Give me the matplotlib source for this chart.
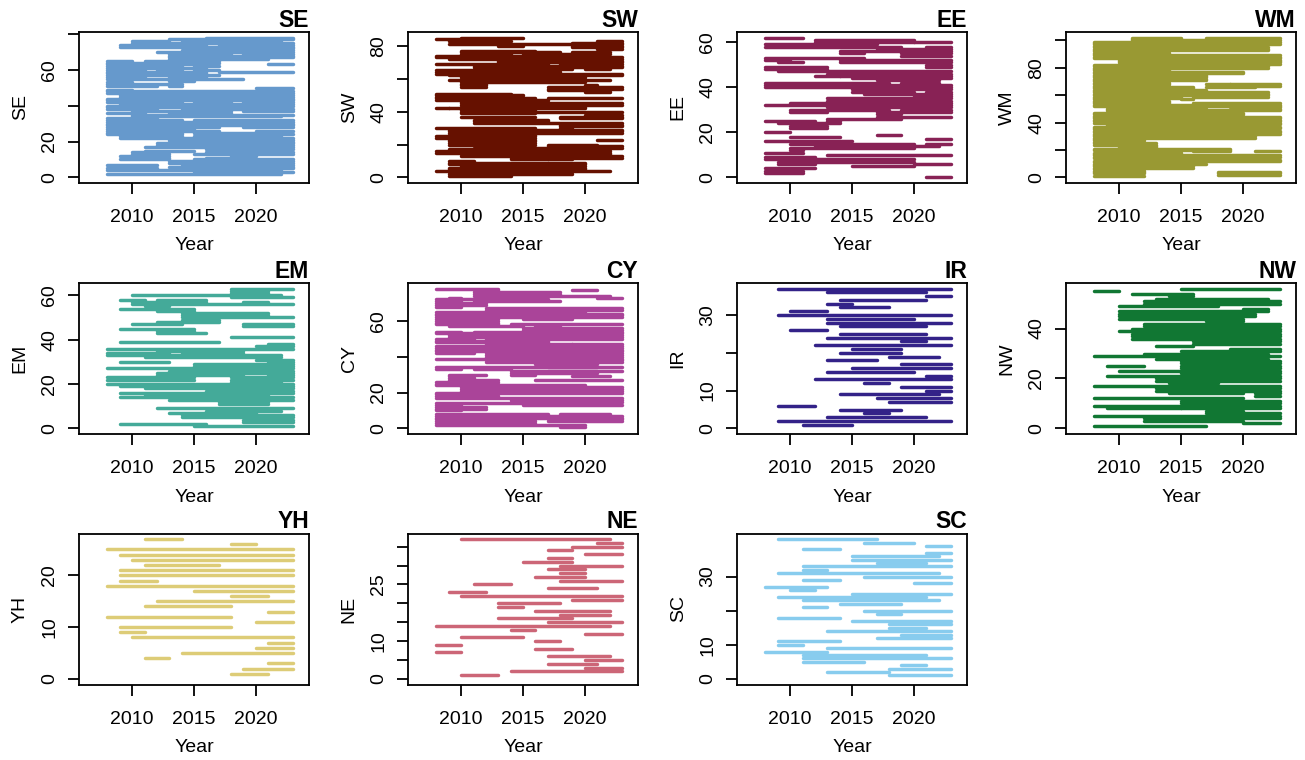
import matplotlib
matplotlib.use("Agg")
import matplotlib.pyplot as plt

plt.rcParams['font.family'] = ['Liberation Sans', 'DejaVu Sans']

REGIONS = ['SE', 'SW', 'EE', 'WM', 'EM', 'CY', 'IR', 'NW', 'YH', 'NE', 'SC']
COLORS = ['#6699CC', '#661100', '#882255', '#999933', '#44AA99', '#AA4499',
          '#332288', '#117733', '#DDCC77', '#CC6677', '#88CCEE']
X_TICKS = [2010, 2015, 2020]

# y ticks and shown labels (R drops overlapping labels)
Y_TICKS = {
    'SE': [0, 20, 40, 60, 80], 'SW': [0, 20, 40, 60, 80], 'EE': [0, 20, 40, 60],
    'WM': [0, 20, 40, 60, 80, 100], 'EM': [0, 20, 40, 60], 'CY': [0, 20, 40, 60],
    'IR': [0, 10, 20, 30], 'NW': [0, 20, 40], 'YH': [0, 10, 20],
    'NE': [0, 5, 10, 15, 20, 25, 30, 35], 'SC': [0, 10, 20, 30],
}
Y_LABELS = {
    'SE': ['0', '20', '', '60', ''], 'SW': ['0', '', '40', '', '80'],
    'EE': ['0', '20', '40', '60'], 'WM': ['0', '', '40', '', '80', ''],
    'EM': ['0', '20', '40', '60'], 'CY': ['0', '20', '', '60'],
    'IR': ['0', '10', '', '30'], 'NW': ['0', '20', '40'], 'YH': ['0', '10', '20'],
    'NE': ['0', '', '10', '', '', '25', '', ''], 'SC': ['0', '10', '', '30'],
}

# segments: (row, first year, last year)
SE_SEGS = [(78,2016,2023),(77,2013,2023),(76,2010,2013),(76,2014,2022),(75,2010,2023),(74,2009,2016),(74,2017,2023),
    (73,2009,2023),(72,2016,2023),(71,2014,2023),(70,2012,2023),(69,2013,2018),(69,2019,2023),(68,2013,2020),(68,2021,2023),
    (67,2013,2023),(66,2013,2021),(65,2008,2010),(65,2011,2017),(64,2008,2017),(63,2008,2013),(63,2014,2016),(63,2021,2023),
    (62,2008,2014),(62,2015,2017),(61,2008,2016),(60,2008,2011),(60,2012,2014),(60,2015,2017),(59,2008,2016),(59,2017,2023),
    (58,2008,2012),(58,2013,2016),(57,2008,2017),(56,2008,2011),(56,2013,2016),(55,2008,2019),(54,2013,2015),(53,2008,2010),
    (52,2008,2014),(51,2008,2012),(51,2013,2014),(50,2020,2023),(49,2008,2010),(48,2008,2023),(47,2008,2023),(46,2009,2023),
    (45,2009,2023),(44,2008,2013),(44,2014,2023),(43,2008,2010),(43,2012,2023),(42,2008,2014),(42,2015,2018),(42,2019,2023),
    (41,2009,2023),(40,2008,2014),(40,2016,2023),(39,2008,2022),(38,2008,2012),(38,2014,2023),(37,2010,2018),(37,2019,2023),
    (36,2008,2011),(36,2013,2018),(35,2010,2023),(34,2010,2022),(33,2008,2012),(32,2008,2014),(32,2015,2023),(31,2008,2023),
    (30,2008,2014),(30,2015,2023),(29,2008,2023),(28,2008,2017),(28,2019,2023),(27,2008,2015),(26,2008,2017),(26,2020,2023),
    (25,2008,2014),(25,2015,2022),(24,2008,2014),(24,2016,2023),(23,2009,2014),(23,2015,2022),(22,2009,2023),(21,2013,2023),
    (20,2013,2023),(19,2012,2023),(18,2012,2023),(17,2011,2023),(16,2016,2023),(15,2011,2015),(14,2010,2013),(14,2016,2023),
    (13,2010,2013),(13,2015,2023),(12,2009,2013),(12,2018,2020),(11,2010,2013),(11,2016,2019),(10,2009,2013),(10,2015,2023),
    (9,2013,2023),(8,2013,2023),(7,2008,2012),(7,2014,2023),(6,2013,2023),(5,2008,2012),(5,2015,2023),(4,2008,2022),
    (3,2015,2023),(2,2008,2022)]

SW_SEGS = [(85,2010,2015),(84,2008,2012),(83,2009,2014),(83,2021,2023),(82,2019,2023),(81,2009,2023),(80,2013,2015),
    (80,2019,2023),(79,2019,2023),(78,2021,2023),(77,2010,2016),(76,2010,2018),(76,2019,2022),(75,2010,2014),(75,2015,2022),
    (74,2008,2018),(73,2008,2023),(72,2009,2018),(72,2018,2023),(71,2013,2023),(70,2013,2023),(69,2008,2017),(69,2018,2023),
    (68,2011,2023),(67,2011,2023),(66,2011,2019),(66,2020,2022),(65,2008,2018),(64,2008,2018),(63,2008,2023),(62,2009,2011),
    (62,2012,2023),(61,2010,2020),(60,2010,2012),(60,2012,2020),(59,2009,2022),(58,2010,2020),(57,2010,2012),(56,2010,2012),
    (56,2020,2021),(55,2010,2012),(55,2017,2023),(54,2017,2023),(53,2017,2022),(52,2020,2022),(51,2008,2014),(50,2008,2015),
    (49,2008,2015),(48,2008,2016),(48,2017,2023),(47,2008,2017),(46,2010,2017),(45,2010,2023),(44,2010,2023),(43,2010,2020),
    (42,2008,2009),(42,2009,2016),(42,2016,2020),(41,2010,2016),(40,2010,2023),(39,2010,2016),(38,2020,2023),(37,2010,2016),
    (37,2018,2023),(36,2018,2023),(35,2011,2017),(34,2011,2017),(33,2011,2023),(32,2018,2023),(31,2018,2023),(30,2008,2016),
    (30,2018,2019),(29,2009,2023),(28,2009,2023),(27,2009,2023),(26,2009,2016),(25,2008,2016),(24,2008,2016),(23,2009,2016),
    (23,2021,2023),(22,2009,2016),(21,2009,2016),(20,2009,2016),(20,2017,2021),(19,2017,2023),(18,2011,2023),(17,2009,2012),
    (17,2012,2022),(16,2008,2022),(15,2008,2022),(14,2010,2022),(13,2010,2023),(12,2014,2023),(11,2014,2017),(11,2017,2019),
    (10,2009,2011),(9,2009,2020),(8,2009,2020),(7,2010,2020),(6,2009,2020),(5,2009,2020),(4,2008,2022),(3,2009,2019),
    (2,2009,2019),(1,2009,2014)]

EE_SEGS = [(62,2008,2011),(61,2012,2020),(60,2012,2020),(60,2020,2023),(59,2008,2017),(58,2008,2017),(58,2017,2019),
    (58,2021,2023),(57,2017,2023),(56,2014,2019),(56,2019,2023),(55,2014,2016),(55,2019,2023),(54,2019,2023),(53,2008,2016),
    (52,2008,2010),(52,2014,2023),(51,2009,2011),(51,2014,2023),(50,2021,2023),(49,2008,2013),(49,2021,2023),(48,2008,2013),
    (47,2009,2023),(46,2013,2023),(45,2012,2014),(45,2014,2023),(44,2015,2023),(43,2017,2022),(42,2008,2018),(42,2019,2022),
    (41,2008,2023),(40,2008,2023),(39,2015,2023),(38,2015,2020),(38,2021,2023),(37,2016,2023),(36,2020,2023),(35,2013,2023),
    (34,2013,2023),(33,2010,2023),(32,2008,2023),(31,2013,2023),(30,2010,2018),(30,2019,2023),(29,2010,2013),(29,2017,2023),
    (28,2017,2019),(27,2017,2023),(26,2013,2019),(25,2008,2012),(25,2013,2014),(24,2009,2014),(23,2010,2013),(22,2010,2013),
    (20,2008,2010),(19,2017,2019),(18,2010,2014),(17,2021,2023),(16,2008,2015),(15,2010,2020),(15,2021,2023),(14,2012,2022),
    (13,2010,2020),(12,2010,2011),(11,2008,2011),(10,2013,2023),(9,2008,2012),(8,2008,2020),(7,2009,2020),(6,2009,2012),
    (6,2020,2023),(5,2015,2020),(4,2008,2012),(3,2008,2011),(2,2008,2011),(0,2021,2023)]

WM_SEGS = [(102,2011,2015),(102,2017,2023),(101,2011,2015),(101,2019,2021),(100,2011,2023),(99,2008,2023),(98,2008,2014),
    (97,2008,2014),(97,2014,2023),(96,2008,2014),(95,2008,2014),(95,2014,2022),(94,2008,2022),(93,2008,2014),(93,2014,2022),
    (92,2008,2014),(91,2008,2009),(91,2011,2014),(90,2008,2014),(89,2008,2014),(89,2014,2023),(88,2008,2023),(87,2008,2023),
    (86,2010,2023),(85,2010,2018),(85,2019,2023),(84,2010,2012),(84,2012,2023),(83,2010,2023),(82,2008,2014),(82,2014,2022),
    (81,2008,2022),(80,2008,2013),(80,2014,2022),(79,2008,2014),(78,2008,2014),(77,2008,2020),(76,2008,2020),(75,2008,2011),
    (75,2011,2017),(74,2008,2017),(73,2008,2017),(72,2008,2009),(72,2010,2017),(71,2008,2010),(71,2010,2017),(70,2008,2014),
    (69,2008,2014),(68,2008,2010),(68,2011,2014),(68,2017,2019),(68,2019,2023),(67,2008,2014),(67,2019,2023),(66,2008,2016),
    (66,2017,2021),(65,2008,2016),(64,2008,2017),(63,2008,2017),(62,2008,2022),(61,2008,2022),(60,2008,2022),(59,2008,2015),
    (59,2016,2022),(58,2008,2015),(57,2008,2013),(57,2015,2016),(56,2008,2014),(55,2008,2014),(54,2008,2014),(54,2016,2023),
    (53,2008,2023),(52,2008,2023),(51,2009,2017),(51,2019,2023),(50,2009,2017),(50,2020,2023),(49,2009,2012),(49,2012,2020),
    (49,2020,2023),(48,2009,2012),(47,2008,2020),(46,2008,2020),(45,2008,2020),(44,2008,2023),(43,2008,2023),(42,2008,2023),
    (41,2008,2023),(40,2008,2023),(39,2009,2023),(38,2009,2017),(38,2017,2022),(37,2008,2023),(36,2008,2023),(35,2008,2022),
    (34,2008,2023),(33,2008,2023),(32,2008,2020),(32,2020,2023),(31,2008,2020),(30,2008,2021),(29,2008,2021),(28,2008,2011),
    (27,2008,2012),(26,2008,2012),(25,2008,2013),(24,2008,2013),(23,2010,2013),(22,2010,2013),(21,2008,2019),(20,2008,2019),
    (19,2009,2015),(19,2016,2019),(19,2021,2023),(18,2008,2015),(17,2008,2015),(16,2008,2023),(15,2008,2023),(14,2008,2022),
    (13,2013,2023),(12,2008,2023),(11,2008,2016),(10,2008,2010),(10,2010,2017),(9,2008,2016),(8,2008,2016),(7,2008,2011),
    (7,2012,2016),(6,2008,2012),(5,2008,2012),(4,2008,2012),(4,2018,2023),(3,2008,2012),(3,2018,2023),(2,2018,2023),
    (1,2008,2012)]

EM_SEGS = [(63,2018,2023),(62,2018,2021),(61,2018,2021),(60,2010,2022),(59,2018,2023),(58,2009,2011),(58,2012,2016),
    (57,2010,2016),(57,2019,2021),(56,2010,2023),(55,2011,2013),(54,2009,2015),(53,2012,2015),(52,2014,2021),(51,2014,2021),
    (50,2014,2023),(49,2014,2017),(48,2012,2017),(47,2010,2014),(47,2019,2023),(46,2019,2023),(45,2009,2015),(44,2012,2015),
    (43,2012,2016),(41,2018,2023),(39,2009,2017),(38,2021,2023),(37,2020,2023),(36,2008,2023),(35,2012,2019),(34,2008,2013),
    (34,2014,2019),(33,2008,2022),(32,2011,2022),(31,2020,2023),(30,2009,2013),(30,2021,2023),(29,2015,2023),(28,2015,2023),
    (27,2008,2023),(26,2013,2023),(25,2012,2023),(24,2012,2019),(24,2021,2023),(23,2008,2015),(23,2018,2023),(22,2008,2015),
    (22,2018,2023),(21,2018,2022),(20,2008,2023),(19,2009,2023),(18,2011,2023),(17,2016,2023),(16,2009,2023),(15,2011,2021),
    (14,2009,2023),(13,2013,2023),(12,2017,2021),(11,2017,2021),(9,2012,2023),(8,2016,2022),(7,2013,2020),(6,2014,2023),
    (5,2014,2023),(4,2019,2023),(3,2019,2023),(2,2009,2016),(1,2015,2023)]

CY_SEGS = [(78,2008,2013),(77,2011,2013),(77,2019,2021),(76,2011,2018),(75,2011,2018),(74,2011,2022),(73,2009,2010),
    (73,2021,2023),(72,2008,2017),(71,2008,2010),(71,2011,2018),(70,2008,2012),(69,2008,2012),(68,2008,2010),(67,2012,2023),
    (66,2012,2023),(65,2008,2020),(64,2008,2020),(64,2020,2023),(63,2008,2023),(62,2008,2023),(61,2008,2013),(61,2015,2019),
    (60,2008,2013),(59,2008,2013),(58,2008,2013),(58,2014,2023),(57,2009,2015),(57,2016,2018),(56,2015,2023),(55,2015,2023),
    (54,2008,2010),(54,2011,2023),(53,2008,2023),(52,2009,2023),(51,2009,2023),(50,2008,2011),(50,2012,2023),(49,2008,2017),
    (48,2008,2017),(47,2012,2019),(47,2019,2023),(46,2008,2023),(45,2008,2023),(44,2008,2023),(43,2008,2020),(43,2021,2023),
    (42,2008,2011),(42,2012,2023),(41,2012,2023),(40,2012,2023),(39,2008,2023),(38,2012,2023),(37,2012,2023),(36,2016,2021),
    (34,2008,2023),(33,2008,2010),(33,2011,2014),(32,2014,2021),(32,2017,2023),(31,2014,2021),(30,2009,2012),(30,2014,2016),
    (29,2009,2011),(29,2019,2022),(28,2009,2011),(27,2009,2013),(27,2016,2023),(26,2008,2013),(25,2008,2013),(24,2008,2012),
    (24,2013,2020),(23,2010,2023),(22,2010,2023),(21,2010,2023),(20,2008,2011),(20,2012,2023),(19,2008,2013),(18,2008,2013),
    (17,2008,2023),(16,2014,2023),(15,2014,2023),(14,2008,2017),(13,2008,2010),(13,2015,2023),(12,2008,2012),(11,2008,2012),
    (10,2008,2010),(8,2008,2017),(8,2018,2022),(7,2008,2023),(6,2008,2023),(5,2008,2016),(5,2017,2023),(4,2008,2016),
    (4,2017,2023),(3,2008,2016),(2,2008,2020),(1,2018,2020)]

IR_SEGS = [(37,2009,2023),(36,2013,2021),(35,2021,2023),(34,2014,2021),(33,2013,2015),(32,2014,2018),(31,2010,2013),
    (30,2009,2023),(29,2013,2020),(28,2013,2023),(27,2014,2021),(26,2010,2013),(25,2014,2021),(24,2013,2023),(23,2019,2021),
    (22,2012,2023),(21,2015,2019),(20,2014,2019),(19,2018,2022),(18,2013,2017),(17,2019,2023),(16,2015,2023),(15,2013,2020),
    (14,2021,2023),(13,2012,2023),(12,2016,2018),(11,2019,2023),(10,2021,2023),(9,2014,2022),(8,2017,2023),(7,2018,2023),
    (6,2009,2012),(5,2014,2019),(4,2016,2018),(3,2013,2021),(2,2009,2023),(1,2011,2015)]

NW_SEGS = [(56,2015,2023),(55,2008,2010),(54,2011,2016),(53,2014,2016),(52,2013,2022),(51,2012,2023),(50,2012,2023),
    (49,2010,2018),(48,2020,2022),(47,2010,2022),(46,2010,2021),(45,2010,2016),(45,2016,2021),(44,2010,2020),(43,2017,2020),
    (42,2012,2023),(41,2012,2017),(41,2017,2023),(40,2011,2023),(39,2010,2016),(39,2016,2023),(38,2011,2016),(38,2016,2023),
    (37,2011,2023),(36,2011,2023),(35,2016,2021),(35,2021,2023),(34,2016,2023),(33,2013,2016),(32,2019,2023),(31,2015,2023),
    (30,2012,2022),(29,2008,2023),(28,2013,2022),(27,2015,2020),(27,2020,2023),(26,2015,2023),(25,2009,2012),(25,2015,2023),
    (24,2015,2023),(23,2010,2017),(23,2017,2023),(22,2015,2023),(21,2009,2018),(21,2018,2023),(20,2013,2023),(19,2013,2014),
    (19,2014,2018),(19,2018,2023),(18,2014,2018),(17,2008,2016),(17,2016,2023),(16,2013,2016),(16,2016,2023),(15,2013,2023),
    (14,2014,2020),(14,2021,2023),(13,2021,2023),(12,2008,2020),(11,2015,2023),(10,2015,2018),(10,2018,2023),(9,2008,2023),
    (8,2009,2015),(8,2015,2023),(7,2017,2020),(6,2017,2023),(5,2008,2023),(4,2012,2023),(3,2012,2020),(2,2020,2023),
    (1,2008,2017)]

YH_SEGS = [(27,2011,2014),(26,2018,2020),(25,2008,2023),(24,2009,2023),(23,2010,2023),(22,2011,2017),(21,2009,2023),
    (20,2009,2023),(19,2009,2012),(18,2008,2023),(17,2015,2023),(16,2018,2021),(15,2012,2023),(14,2011,2018),(13,2021,2023),
    (12,2008,2018),(11,2020,2023),(10,2009,2018),(9,2009,2011),(8,2010,2023),(7,2021,2023),(6,2020,2023),(5,2014,2023),
    (4,2011,2013),(3,2021,2023),(2,2019,2023),(1,2018,2021)]

NE_SEGS = [(37,2010,2022),(36,2021,2023),(35,2019,2023),(34,2017,2019),(33,2020,2023),(32,2017,2019),(31,2015,2019),
    (30,2018,2023),(29,2017,2020),(28,2018,2020),(27,2016,2020),(26,2018,2023),(25,2011,2014),(24,2017,2021),(23,2009,2012),
    (22,2010,2023),(21,2019,2023),(20,2013,2018),(19,2013,2015),(18,2016,2022),(17,2018,2022),(16,2013,2019),(15,2017,2023),
    (14,2008,2022),(13,2014,2016),(12,2020,2023),(11,2010,2015),(10,2016,2018),(9,2008,2010),(8,2016,2019),(7,2008,2010),
    (6,2017,2022),(5,2020,2023),(4,2017,2021),(3,2020,2023),(2,2014,2023),(1,2010,2013)]

SC_SEGS = [(41,2009,2017),(40,2016,2020),(39,2021,2023),(38,2011,2014),(37,2021,2023),(36,2015,2022),(35,2015,2023),
    (34,2017,2021),(33,2011,2023),(32,2011,2013),(31,2009,2022),(30,2016,2023),(29,2011,2014),(28,2020,2023),(27,2008,2013),
    (26,2010,2012),(25,2015,2023),(24,2009,2021),(23,2011,2022),(22,2014,2019),(21,2011,2013),(20,2016,2023),(19,2017,2019),
    (18,2009,2014),(17,2015,2023),(16,2018,2023),(15,2018,2021),(14,2013,2023),(13,2019,2023),(12,2017,2023),(11,2009,2014),
    (10,2009,2011),(9,2013,2023),(8,2008,2013),(7,2011,2021),(6,2011,2023),(5,2011,2016),(4,2019,2021),(3,2018,2023),
    (2,2013,2018),(1,2018,2023)]

SEGS = [SE_SEGS, SW_SEGS, EE_SEGS, WM_SEGS, EM_SEGS, CY_SEGS, IR_SEGS, NW_SEGS, YH_SEGS, NE_SEGS, SC_SEGS]

W, H = 1305, 760
fig = plt.figure(figsize=(W / 100, H / 100), dpi=100)

col_left = [79, 408, 737, 1066]
row_top = [32, 283, 533.5]
bw, bh = 230, 151

for i, (name, col, segs) in enumerate(zip(REGIONS, COLORS, SEGS)):
    r, c = divmod(i, 4)
    ax = fig.add_axes([col_left[c] / W, 1 - (row_top[r] + bh) / H, bw / W, bh / H])
    for (y, x0, x1) in segs:
        ax.plot([x0, x1], [y, y], color=col, lw=2.5, solid_capstyle='round')
    n = max(s[0] for s in segs)
    ax.set_xlim(2005.7, 2024.3)
    ax.set_ylim(-0.04 * n, 1.04 * n)
    ax.set_xticks(X_TICKS)
    ax.set_xticklabels([str(t) for t in X_TICKS], fontsize=14)
    ax.set_yticks(Y_TICKS[name])
    ax.set_yticklabels(Y_LABELS[name], fontsize=14, rotation=90, va='center')
    ax.tick_params(direction='out', length=8, width=1.3)
    ax.tick_params(axis='x', pad=11)
    ax.tick_params(axis='y', pad=7)
    for sp in ax.spines.values():
        sp.set_linewidth(1.3)
    ax.set_xlabel('Year', fontsize=14, labelpad=8)
    ax.set_ylabel(name, fontsize=14, labelpad=9)
    ax.set_title(name, loc='right', fontweight='bold', fontsize=16.5, pad=3)

fig.savefig('out.png', dpi=100)
